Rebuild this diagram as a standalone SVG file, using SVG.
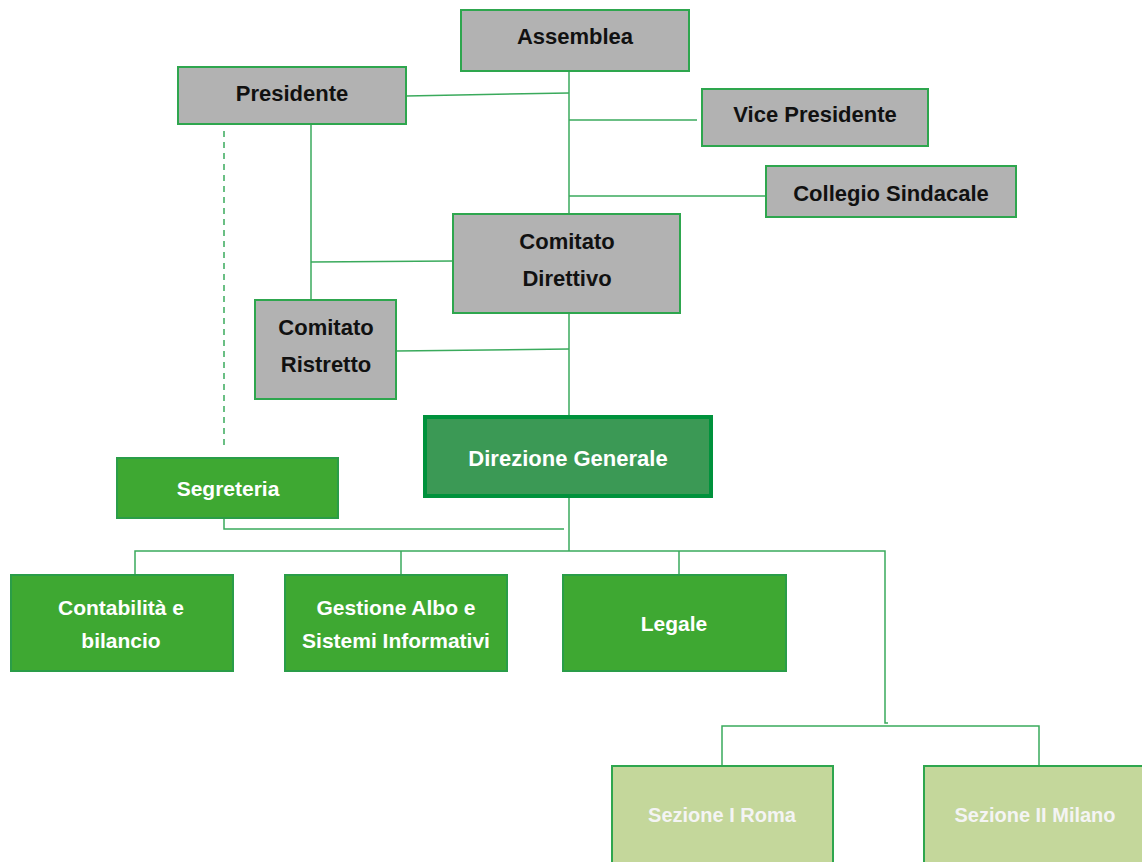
<svg xmlns="http://www.w3.org/2000/svg" width="1142" height="862" viewBox="0 0 1142 862">
<style>
.gray{fill:#b2b2b2;stroke:#2ea64e;stroke-width:2}
.green{fill:#3ea832;stroke:#2a9d48;stroke-width:2}
.light{fill:#c4d79b;stroke:#2ea64e;stroke-width:2}
.dg{fill:#3b9955;stroke:#00923c;stroke-width:4}
.tb{font-family:"Liberation Sans",Arial,sans-serif;font-weight:bold;font-size:22px;fill:#111;text-anchor:middle}
.tw{font-family:"Liberation Sans",Arial,sans-serif;font-weight:bold;font-size:21px;fill:#fff;text-anchor:middle}
.tl{font-family:"Liberation Sans",Arial,sans-serif;font-weight:bold;font-size:20px;fill:#f4f4f4;text-anchor:middle}
.ln{fill:none;stroke:#3aaa5c;stroke-width:1.5}
.dash{fill:none;stroke:#3aaa5c;stroke-width:1.5;stroke-dasharray:6 5}
</style>
<rect width="1142" height="862" fill="#fff"/>
<g id="connectors">
<path class="ln" d="M569 72V214"/>
<path class="ln" d="M406 96L569 93"/>
<path class="ln" d="M569 120H697"/>
<path class="ln" d="M569 196H766"/>
<path class="ln" d="M311 124V300"/>
<path class="ln" d="M311 262L453 261"/>
<path class="dash" d="M224 131V449"/>
<path class="ln" d="M396 351L569 349"/>
<path class="ln" d="M569 313V416"/>
<path class="ln" d="M569 497V551"/>
<path class="ln" d="M224 518V529H564"/>
<path class="ln" d="M135 575V551H885V723H888"/>
<path class="ln" d="M401 551V575"/>
<path class="ln" d="M679 551V575"/>
<path class="ln" d="M722 766V726H1039V766"/>
</g>
<g id="assemblea"><rect class="gray" x="461" y="10" width="228" height="61"/><text class="tb" x="575" y="44">Assemblea</text></g>
<g id="presidente"><rect class="gray" x="178" y="67" width="228" height="57"/><text class="tb" x="292" y="101">Presidente</text></g>
<g id="vice-presidente"><rect class="gray" x="702" y="89" width="226" height="57"/><text class="tb" x="815" y="122">Vice Presidente</text></g>
<g id="collegio-sindacale"><rect class="gray" x="766" y="166" width="250" height="51"/><text class="tb" x="891" y="201">Collegio Sindacale</text></g>
<g id="comitato-direttivo"><rect class="gray" x="453" y="214" width="227" height="99"/><text class="tb" x="567" y="249">Comitato</text><text class="tb" x="567" y="286">Direttivo</text></g>
<g id="comitato-ristretto"><rect class="gray" x="255" y="300" width="141" height="99"/><text class="tb" x="326" y="335">Comitato</text><text class="tb" x="326" y="372">Ristretto</text></g>
<g id="direzione-generale"><rect class="dg" x="425" y="417" width="286" height="79"/><text class="tb" x="568" y="466" style="fill:#fff">Direzione Generale</text></g>
<g id="segreteria"><rect class="green" x="117" y="458" width="221" height="60"/><text class="tw" x="228" y="496">Segreteria</text></g>
<g id="contabilita"><rect class="green" x="11" y="575" width="222" height="96"/><text class="tw" x="121" y="615">Contabilità e</text><text class="tw" x="121" y="648">bilancio</text></g>
<g id="gestione-albo"><rect class="green" x="285" y="575" width="222" height="96"/><text class="tw" x="396" y="615">Gestione Albo e</text><text class="tw" x="396" y="648">Sistemi Informativi</text></g>
<g id="legale"><rect class="green" x="563" y="575" width="223" height="96"/><text class="tw" x="674" y="631">Legale</text></g>
<g id="sezione-roma"><rect class="light" x="612" y="766" width="221" height="100"/><text class="tl" x="722" y="822">Sezione I Roma</text></g>
<g id="sezione-milano"><rect class="light" x="924" y="766" width="222" height="100"/><text class="tl" x="1035" y="822">Sezione II Milano</text></g>
</svg>
